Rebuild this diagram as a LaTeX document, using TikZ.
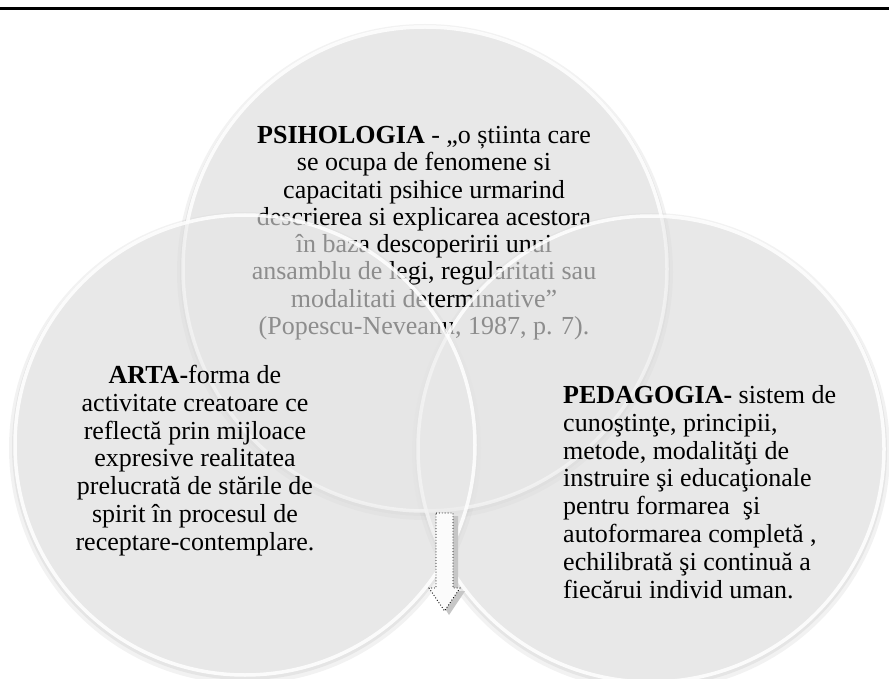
\documentclass[tikz,border=0pt]{standalone}
\usepackage{fontspec}
\setmainfont{Liberation Serif}
\begin{document}
\begin{tikzpicture}[x=1pt,y=-1pt,
  disc/.style={fill=gray!16, fill opacity=0.6, draw=white, draw opacity=0.85, line width=3.5pt},
  shad/.style={fill=black, fill opacity=0.05, draw=none},
  txt/.style={inner sep=0pt, text=black},
  arrowshadow/.style={fill=gray!45, draw=none},
  arrowbody/.style={fill=gray!3, draw=black, dotted, line width=0.9pt},
]
\useasboundingbox (0,0) rectangle (889,679);
\fill[white] (0,0) rectangle (889,679);
\draw[line width=2.6pt] (0,8.5) -- (889,8.5);

\coordinate (ct) at (425,269);
\coordinate (cl) at (245,445);
\coordinate (cr) at (651,449);

% soft shadows
\foreach \c/\r in {ct/242,cl/230,cr/233}{
  \fill[shad] ([yshift=-2pt]\c) circle[radius=\r pt+3pt];
  \fill[shad] ([yshift=-3pt]\c) circle[radius=\r pt+6pt];
}

% top circle and its text
\draw[disc] (ct) circle[radius=242pt];
\node[txt, align=center, anchor=north, font=\fontsize{26}{27.3}\selectfont] (psi) at (424,126)
 {\textbf{PSIHOLOGIA} - „o știinta care\\
  se ocupa de fenomene si\\
  capacitati psihice urmarind\\
  descrierea si explicarea acestora\\
  în baza descoperirii unui\\
  ansamblu de legi, regularitati sau\\
  modalitati determinative''\\
  (Popescu-Neveanu, 1987, p. 7).};

% right and left circles
\draw[disc] (cr) circle[radius=233pt];
\draw[disc] (cl) circle[radius=230pt];

\node[txt, align=center, anchor=north, font=\fontsize{26}{27.8}\selectfont] (arta) at (195,365)
 {\textbf{ARTA-}forma de\\
  activitate creatoare ce\\
  reflectă prin mijloace\\
  expresive realitatea\\
  prelucrată de stările de\\
  spirit în procesul de\\
  receptare-contemplare.};

\node[txt, align=left, anchor=north west, font=\fontsize{26}{27.9}\selectfont] (ped) at (563,385)
 {\textbf{PEDAGOGIA-} sistem de\\
  cunoştinţe, principii,\\
  metode, modalităţi de\\
  instruire şi educaţionale\\
  pentru formarea~ şi\\
  autoformarea completă ,\\
  echilibrată şi continuă a\\
  fiecărui individ uman.};

% block arrow
\fill[arrowshadow] (440,516) -- (458,516) -- (458,591) -- (465,591) -- (449,615) -- (434,591) -- (440,591) -- cycle;
\path[arrowbody] (436,513) -- (453,513) -- (453,588) -- (460,588) -- (444.5,611) -- (429,588) -- (436,588) -- cycle;
\end{tikzpicture}
\end{document}
